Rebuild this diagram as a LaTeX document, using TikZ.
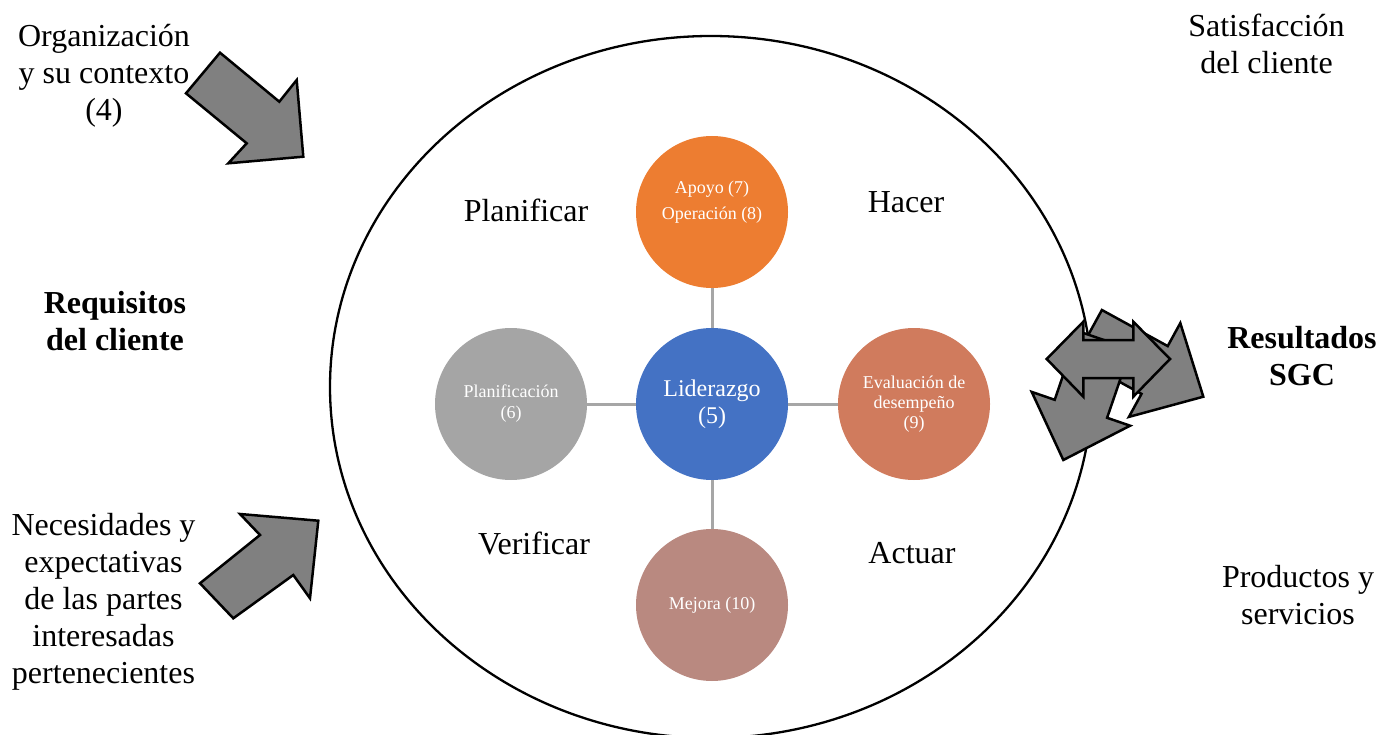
\documentclass[tikz,border=0pt]{standalone}
\usepackage{fontspec}
\setmainfont{Liberation Serif}
\definecolor{apoyoc}{RGB}{237,125,49}
\definecolor{liderc}{RGB}{68,114,196}
\definecolor{planc}{RGB}{165,165,165}
\definecolor{evalc}{RGB}{208,123,93}
\definecolor{mejorac}{RGB}{185,137,128}
\definecolor{arrowgray}{RGB}{128,128,128}
\definecolor{linkgray}{RGB}{166,166,166}
\begin{document}
\begin{tikzpicture}[x=1pt,y=-1pt,
  stage/.style={circle, minimum size=152pt, inner sep=0pt, text=white, align=center,
    font=\fontsize{18}{21}\selectfont},
  stagetext/.style={text=white, align=center, font=\fontsize{18}{26}\selectfont},
  link/.style={draw=linkgray, line width=3pt},
  blockarrow/.style={fill=arrowgray, draw=black, line width=2.5pt, line join=miter},
  sidetext/.style={align=center, font=\fontsize{32}{37}\selectfont},
  sidebold/.style={align=center, font=\fontsize{32}{37}\selectfont\bfseries},
  cycletext/.style={font=\fontsize{32}{37}\selectfont}
]
\useasboundingbox (0,0) rectangle (1381,735);
\clip (0,0) rectangle (1381,735);

% outer boundary of the system
\draw[line width=2.3pt] (711,387) ellipse [x radius=381pt, y radius=351pt];

% clause circles
\node[stage, fill=apoyoc] (apoyo) at (712,212) {};
\node[stagetext] (apoyotext) at (712,202) {Apoyo (7)\\Operación (8)};
\node[stage, fill=liderc, font=\fontsize{24}{27}\selectfont] (lider) at (712,404) {Liderazgo\\(5)};
\node[stage, fill=planc] (plan) at (511,404) {Planificación\\(6)};
\node[stage, fill=evalc, font=\fontsize{18}{20}\selectfont] (eval) at (914,404) {Evaluación de\\desempeño\\(9)};
\node[stage, fill=mejorac] (mejora) at (712,605) {Mejora (10)};

% links between the circles
\draw[link] (plan) -- (lider);
\draw[link] (lider) -- (eval);
\draw[link] (apoyo) -- (lider);
\draw[link] (lider) -- (mejora);

% PDCA labels
\node[cycletext] (planificar) at (526,210) {Planificar};
\node[cycletext] (hacer) at (906,202) {Hacer};
\node[cycletext] (verificar) at (534,543) {Verificar};
\node[cycletext] (actuar) at (912,553) {Actuar};

% inputs and outputs
\node[sidetext] (org) at (104,76) {Organización\\y su contexto\\(4)};
\node[sidebold] (req) at (115,321.5) {Requisitos\\del cliente};
\node[sidetext] (nec) at (103.5,602) {Necesidades y\\expectativas\\de las partes\\interesadas\\pertenecientes};
\node[sidetext] (sat) at (1266.5,43.5) {Satisfacción\\del cliente};
\node[sidebold] (res) at (1302,356.5) {Resultados\\SGC};
\node[sidetext] (prod) at (1298,595.5) {Productos y\\servicios};

% input arrows
\draw[blockarrow] (220,52.7) -- (279.3,101.7) -- (296.7,80) -- (303.3,156.7)
  -- (228.3,163.3) -- (246.7,143.3) -- (186,93.3) -- cycle;
\draw[blockarrow] (200,583.3) -- (260,535) -- (240,514) -- (318.3,520.7)
  -- (310,598.3) -- (293.3,575) -- (233.3,618.3) -- cycle;

% output arrows
\draw[blockarrow] (1101.9,310.0) -- (1167.7,346.1) -- (1180.3,323.1) -- (1203.3,396.7)
  -- (1128.9,416.9) -- (1141.5,393.9) -- (1075.7,357.8) -- cycle;
\draw[blockarrow] (1078.2,331.2) -- (1054.7,399.8) -- (1031.7,391.9) -- (1063.3,460)
  -- (1130.1,425.7) -- (1107.1,417.8) -- (1130.6,349.2) -- cycle;
\draw[blockarrow] (1046.7,359) -- (1083.3,321.7) -- (1083.3,340) -- (1133.3,340)
  -- (1133.3,321.7) -- (1170,359) -- (1133.3,396.7) -- (1133.3,378)
  -- (1083.3,378) -- (1083.3,396.7) -- cycle;
\end{tikzpicture}
\end{document}
